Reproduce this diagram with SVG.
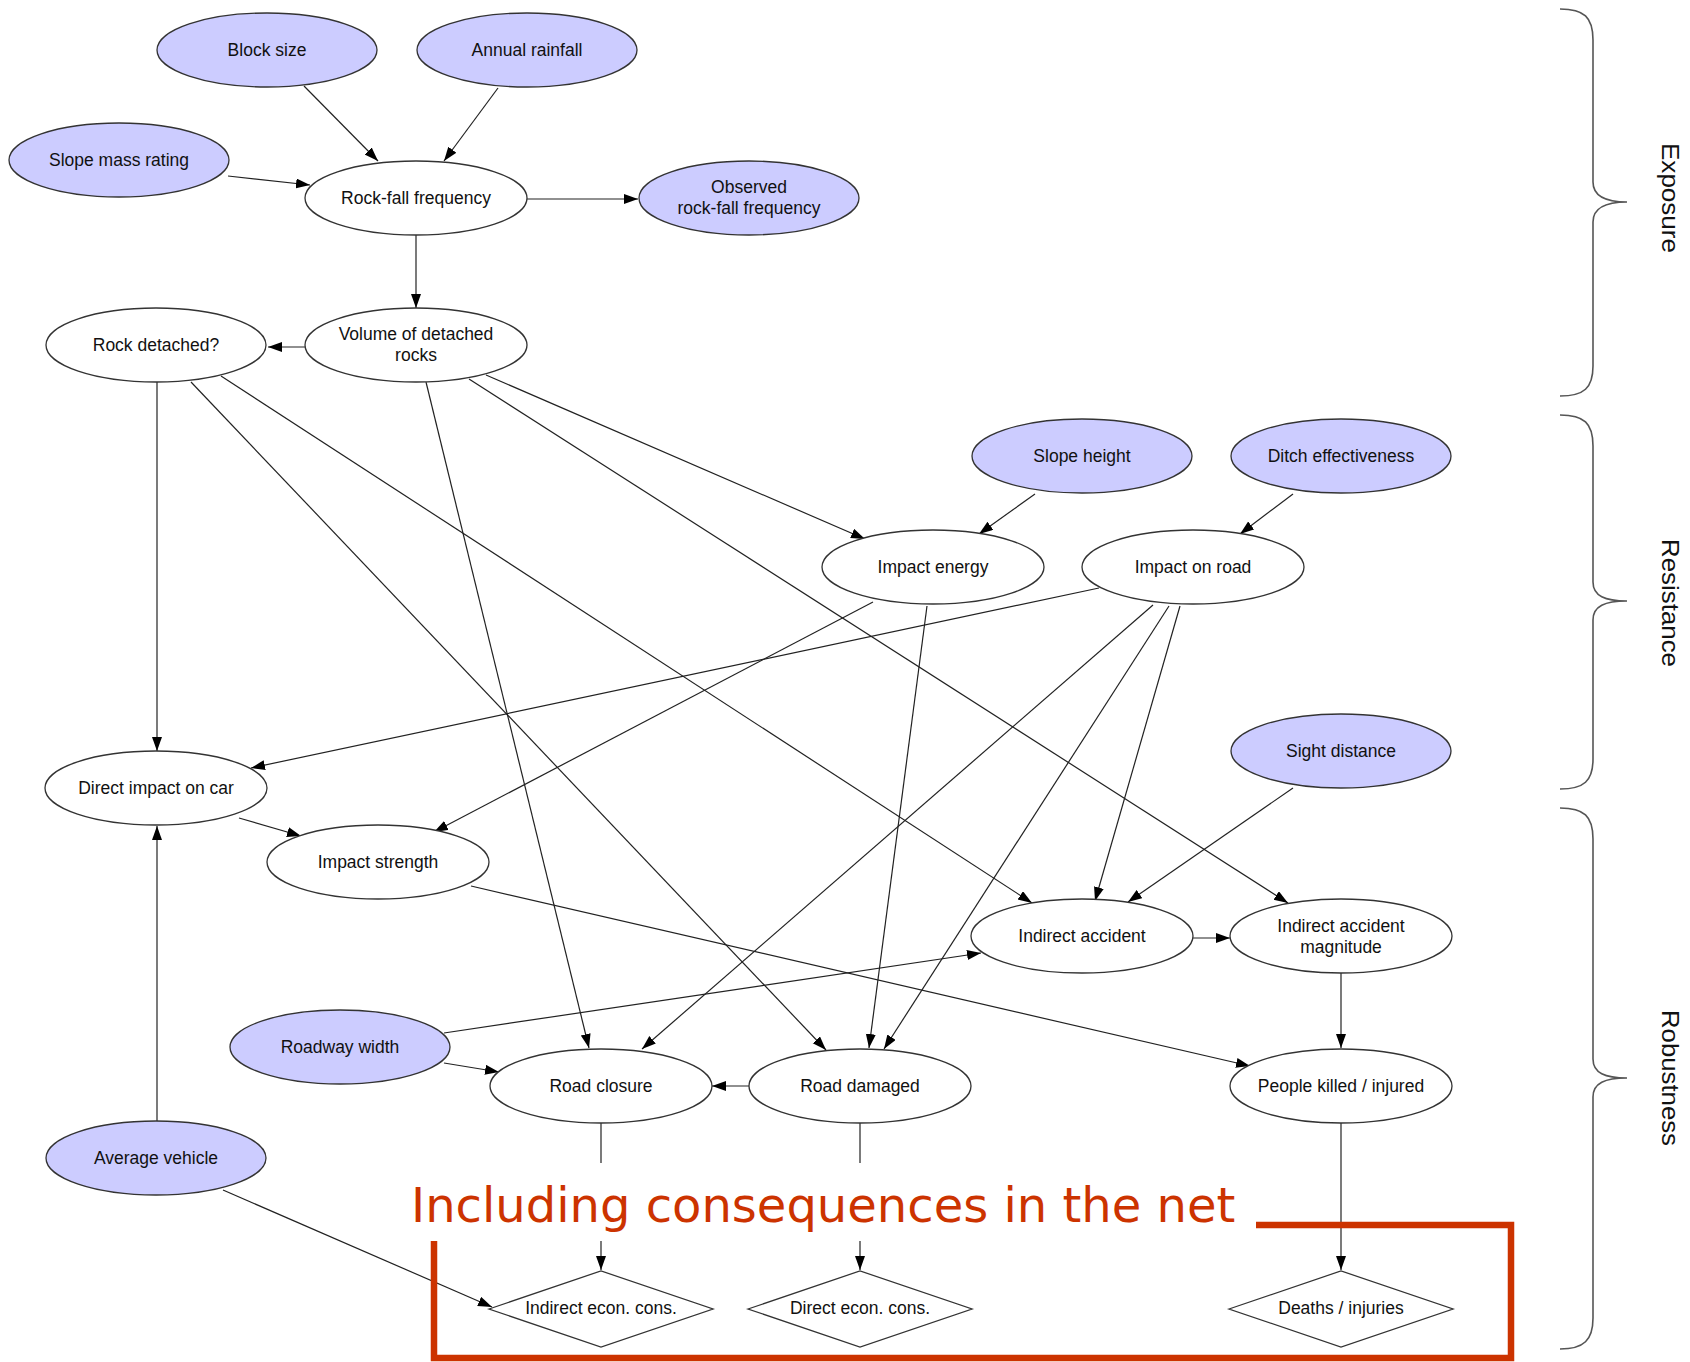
<svg xmlns="http://www.w3.org/2000/svg" width="1690" height="1362" viewBox="0 0 1690 1362">
<defs>
<style>
.n{fill:#fff;stroke:#333;stroke-width:1.3}
.b{fill:#ccccff;stroke:#333;stroke-width:1.3}
.t{font-family:"Liberation Sans",Arial,sans-serif;font-size:17.5px;fill:#111;text-anchor:middle}
.e{stroke:#222;stroke-width:1.2;fill:none}
.a{marker-end:url(#ah)}
.br{fill:none;stroke:#555;stroke-width:1.6}
.lab{font-family:"Liberation Sans",Arial,sans-serif;font-size:24px;fill:#111;text-anchor:middle}
</style>
<marker id="ah" markerUnits="userSpaceOnUse" markerWidth="15" markerHeight="11" refX="14" refY="5" orient="auto">
<path d="M0,0 L14,5 L0,10 z" fill="#000"/>
</marker>
</defs>
<rect width="1690" height="1362" fill="#fff"/>

<g id="connectors">
<line class="e a" x1="304" y1="86" x2="378" y2="161"/>
<line class="e a" x1="498" y1="88" x2="444" y2="161"/>
<line class="e a" x1="228" y1="176" x2="310" y2="185"/>
<line class="e a" x1="527" y1="199" x2="638" y2="199"/>
<line class="e a" x1="416" y1="235" x2="416" y2="308"/>
<line class="e a" x1="306" y1="347" x2="268" y2="347"/>
<line class="e a" x1="157" y1="382" x2="157" y2="751"/>
<line class="e a" x1="191" y1="382" x2="826" y2="1050"/>
<line class="e a" x1="221" y1="376" x2="1032" y2="903"/>
<line class="e a" x1="426" y1="382" x2="589" y2="1048"/>
<line class="e a" x1="486" y1="375" x2="865" y2="539"/>
<line class="e a" x1="469" y1="379" x2="1288" y2="903"/>
<line class="e a" x1="1035" y1="494" x2="979" y2="534"/>
<line class="e a" x1="1293" y1="494" x2="1240" y2="534"/>
<line class="e a" x1="873" y1="602" x2="434" y2="832"/>
<line class="e a" x1="927" y1="606" x2="869" y2="1048"/>
<line class="e a" x1="1099" y1="588" x2="251" y2="768"/>
<line class="e a" x1="1153" y1="605" x2="642" y2="1049"/>
<line class="e a" x1="1169" y1="606" x2="884" y2="1049"/>
<line class="e a" x1="1180" y1="606" x2="1095" y2="901"/>
<line class="e a" x1="1293" y1="788" x2="1128" y2="902"/>
<line class="e a" x1="239" y1="818" x2="301" y2="836"/>
<line class="e a" x1="471" y1="886" x2="1250" y2="1066"/>
<line class="e a" x1="1193" y1="938" x2="1230" y2="938"/>
<line class="e a" x1="444" y1="1033" x2="981" y2="953"/>
<line class="e a" x1="444" y1="1063" x2="499" y2="1072"/>
<line class="e a" x1="1341" y1="972" x2="1341" y2="1048"/>
<line class="e a" x1="749" y1="1086" x2="712" y2="1086"/>
<line class="e a" x1="157" y1="1121" x2="157" y2="826"/>
<line class="e a" x1="223" y1="1190" x2="492" y2="1307"/>
<line class="e" x1="601" y1="1123" x2="601" y2="1163"/>
<line class="e a" x1="601" y1="1241" x2="601" y2="1270"/>
<line class="e" x1="860" y1="1123" x2="860" y2="1163"/>
<line class="e a" x1="860" y1="1241" x2="860" y2="1270"/>
<line class="e a" x1="1341" y1="1123" x2="1341" y2="1270"/>
</g>

<g id="n-block-size"><ellipse class="b" cx="267" cy="50" rx="110" ry="37"/><text class="t" x="267" y="56">Block size</text></g>
<g id="n-annual-rainfall"><ellipse class="b" cx="527" cy="50" rx="110" ry="37"/><text class="t" x="527" y="56">Annual rainfall</text></g>
<g id="n-slope-mass-rating"><ellipse class="b" cx="119" cy="160" rx="110" ry="37"/><text class="t" x="119" y="166">Slope mass rating</text></g>
<g id="n-rockfall-frequency"><ellipse class="n" cx="416" cy="198" rx="111" ry="37"/><text class="t" x="416" y="204">Rock-fall frequency</text></g>
<g id="n-observed"><ellipse class="b" cx="749" cy="198" rx="110" ry="37"/><text class="t" x="749" y="193">Observed</text><text class="t" x="749" y="214">rock-fall frequency</text></g>
<g id="n-rock-detached"><ellipse class="n" cx="156" cy="345" rx="110" ry="37"/><text class="t" x="156" y="351">Rock detached?</text></g>
<g id="n-volume"><ellipse class="n" cx="416" cy="345" rx="111" ry="37"/><text class="t" x="416" y="340">Volume of detached</text><text class="t" x="416" y="361">rocks</text></g>
<g id="n-slope-height"><ellipse class="b" cx="1082" cy="456" rx="110" ry="37"/><text class="t" x="1082" y="462">Slope height</text></g>
<g id="n-ditch"><ellipse class="b" cx="1341" cy="456" rx="110" ry="37"/><text class="t" x="1341" y="462">Ditch effectiveness</text></g>
<g id="n-impact-energy"><ellipse class="n" cx="933" cy="567" rx="111" ry="37"/><text class="t" x="933" y="573">Impact energy</text></g>
<g id="n-impact-road"><ellipse class="n" cx="1193" cy="567" rx="111" ry="37"/><text class="t" x="1193" y="573">Impact on road</text></g>
<g id="n-sight-distance"><ellipse class="b" cx="1341" cy="751" rx="110" ry="37"/><text class="t" x="1341" y="757">Sight distance</text></g>
<g id="n-direct-impact"><ellipse class="n" cx="156" cy="788" rx="111" ry="37"/><text class="t" x="156" y="794">Direct impact on car</text></g>
<g id="n-impact-strength"><ellipse class="n" cx="378" cy="862" rx="111" ry="37"/><text class="t" x="378" y="868">Impact strength</text></g>
<g id="n-indirect-accident"><ellipse class="n" cx="1082" cy="936" rx="111" ry="37"/><text class="t" x="1082" y="942">Indirect accident</text></g>
<g id="n-indirect-magnitude"><ellipse class="n" cx="1341" cy="936" rx="111" ry="37"/><text class="t" x="1341" y="932">Indirect accident</text><text class="t" x="1341" y="953">magnitude</text></g>
<g id="n-roadway-width"><ellipse class="b" cx="340" cy="1047" rx="110" ry="37"/><text class="t" x="340" y="1053">Roadway width</text></g>
<g id="n-road-closure"><ellipse class="n" cx="601" cy="1086" rx="111" ry="37"/><text class="t" x="601" y="1092">Road closure</text></g>
<g id="n-road-damaged"><ellipse class="n" cx="860" cy="1086" rx="111" ry="37"/><text class="t" x="860" y="1092">Road damaged</text></g>
<g id="n-people-killed"><ellipse class="n" cx="1341" cy="1086" rx="111" ry="37"/><text class="t" x="1341" y="1092">People killed / injured</text></g>
<g id="n-average-vehicle"><ellipse class="b" cx="156" cy="1158" rx="110" ry="37"/><text class="t" x="156" y="1164">Average vehicle</text></g>
<g id="n-indirect-econ"><polygon class="n" points="489,1309 601,1271 713,1309 601,1347"/><text class="t" x="601" y="1314">Indirect econ. cons.</text></g>
<g id="n-direct-econ"><polygon class="n" points="748,1309 860,1271 972,1309 860,1347"/><text class="t" x="860" y="1314">Direct econ. cons.</text></g>
<g id="n-deaths"><polygon class="n" points="1229,1309 1341,1271 1453,1309 1341,1347"/><text class="t" x="1341" y="1314">Deaths / injuries</text></g>

<g id="braces">
<path class="br" d="M1560,9 C1584,9 1593,17 1593,40 L1593,182 C1593,196 1605,202 1627,202 C1605,202 1593,208 1593,222 L1593,366 C1593,388 1584,396 1560,396"/>
<path class="br" d="M1560,415 C1584,415 1593,423 1593,446 L1593,582 C1593,596 1605,601 1627,601 C1605,601 1593,606 1593,620 L1593,759 C1593,781 1584,789 1560,789"/>
<path class="br" d="M1560,808 C1584,808 1593,816 1593,839 L1593,1059 C1593,1073 1605,1078 1627,1078 C1605,1078 1593,1083 1593,1097 L1593,1318 C1593,1340 1584,1349 1560,1349"/>
<text class="lab" transform="translate(1662,198) rotate(90)" textLength="110" lengthAdjust="spacingAndGlyphs">Exposure</text>
<text class="lab" transform="translate(1662,603) rotate(90)" textLength="128" lengthAdjust="spacingAndGlyphs">Resistance</text>
<text class="lab" transform="translate(1662,1078) rotate(90)" textLength="136" lengthAdjust="spacingAndGlyphs">Robustness</text>
</g>

<g id="highlight">
<path d="M1256,1225 L1511,1225 L1511,1358 L434,1358 L434,1241" fill="none" stroke="#cc3300" stroke-width="6.5"/>
<text x="411" y="1222" font-family="'DejaVu Sans',Verdana,sans-serif" font-size="48" fill="#cc3300">Including consequences in the net</text>
</g>
</svg>
